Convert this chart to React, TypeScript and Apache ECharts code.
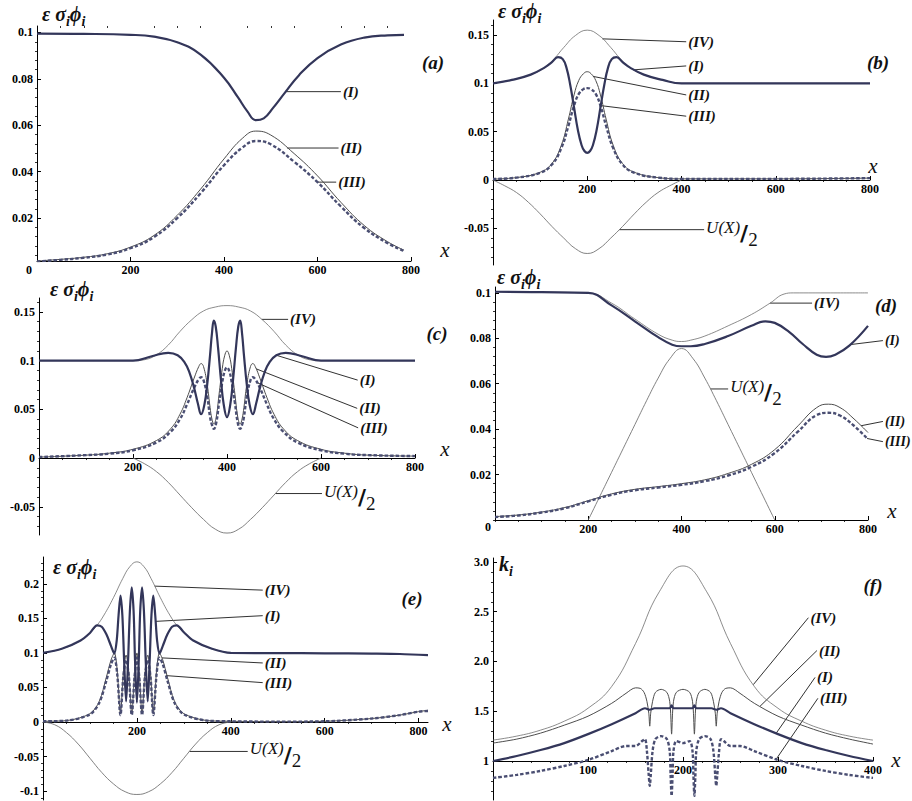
import React, { useEffect, useRef } from "react";
import * as echarts from "echarts";

// ---------------- Panel (a) ----------------
const A_I = [[0,0.0995],[100,0.0994],[200,0.099],[250,0.0982],[300,0.0958],[350,0.0905],[400,0.0805],[430,0.072],[450,0.066],[468,0.0622],[485,0.063],[505,0.0675],[530,0.074],[560,0.0815],[600,0.089],[650,0.0948],[700,0.0978],[750,0.0988],[785,0.099]];
const A_II = [[0,0.0015],[50,0.0022],[100,0.0031],[150,0.0046],[200,0.0075],[250,0.0125],[300,0.0212],[350,0.0325],[400,0.0455],[440,0.0545],[468,0.0575],[500,0.0558],[550,0.0478],[600,0.0382],[650,0.0268],[700,0.0168],[750,0.0098],[785,0.0062]];
const A_III = [[0,0.0013],[50,0.002],[100,0.0029],[150,0.0043],[200,0.007],[250,0.0118],[300,0.02],[350,0.0307],[400,0.0428],[440,0.0505],[468,0.0532],[500,0.0518],[550,0.0443],[600,0.0355],[650,0.025],[700,0.0157],[750,0.0092],[785,0.0058]];

// ---------------- Panel (b) ----------------
const B_I = [[0,0.1],[40,0.1035],[80,0.109],[110,0.1165],[125,0.122],[138,0.127],[148,0.125],[156,0.116],[164,0.098],[172,0.075],[180,0.052],[188,0.036],[194,0.03],[200,0.028],[206,0.03],[212,0.036],[220,0.052],[228,0.075],[236,0.098],[244,0.116],[252,0.125],[262,0.127],[275,0.122],[290,0.1165],[320,0.109],[360,0.1035],[400,0.1],[600,0.1],[800,0.1]];
const B_II = [[0,0.001],[50,0.0025],[100,0.008],[125,0.017],[145,0.036],[160,0.063],[172,0.088],[182,0.103],[192,0.11],[200,0.112],[208,0.11],[218,0.103],[228,0.088],[240,0.063],[255,0.036],[275,0.017],[300,0.008],[350,0.0025],[400,0.0012],[600,0.0012],[800,0.002]];
const B_III = [[0,0.001],[50,0.0025],[100,0.0075],[125,0.016],[145,0.033],[160,0.056],[172,0.077],[182,0.089],[192,0.094],[200,0.095],[208,0.094],[218,0.089],[228,0.077],[240,0.056],[255,0.033],[275,0.016],[300,0.0075],[350,0.0025],[400,0.0012],[600,0.0012],[800,0.002]];
const B_IV = [[0,0.1],[40,0.1035],[80,0.109],[110,0.1165],[130,0.1255],[150,0.137],[175,0.1495],[200,0.155],[225,0.1495],[250,0.137],[270,0.1255],[290,0.1165],[320,0.109],[360,0.1035],[400,0.1],[600,0.1],[800,0.1]];
const B_U = [[0,0],[25,-0.006],[50,-0.013],[75,-0.023],[100,-0.035],[125,-0.048],[150,-0.06],[175,-0.071],[200,-0.076],[225,-0.071],[250,-0.06],[275,-0.048],[300,-0.035],[325,-0.023],[350,-0.013],[375,-0.006],[400,0]];

// ---------------- Panel (c) ----------------
const C_I = [[0,0.1],[100,0.1],[200,0.1],[240,0.1045],[275,0.108],[295,0.1055],[310,0.098],[320,0.088],[330,0.072],[338,0.056],[345,0.045],[352,0.055],[358,0.076],[364,0.106],[368,0.128],[372,0.141],[376,0.135],[381,0.113],[387,0.081],[393,0.055],[400,0.042],[407,0.055],[413,0.081],[419,0.113],[424,0.135],[428,0.141],[432,0.128],[436,0.106],[442,0.076],[448,0.055],[455,0.045],[462,0.056],[470,0.072],[480,0.088],[490,0.098],[505,0.1055],[525,0.108],[560,0.1045],[600,0.1],[700,0.1],[800,0.1]];
const C_II = [[0,0.001],[100,0.003],[150,0.005],[200,0.009],[250,0.018],[280,0.03],[300,0.045],[315,0.062],[330,0.082],[340,0.094],[345,0.097],[350,0.094],[358,0.075],[364,0.052],[368,0.04],[372,0.035],[377,0.042],[383,0.065],[390,0.092],[395,0.105],[400,0.11],[405,0.105],[410,0.092],[417,0.065],[423,0.042],[428,0.035],[432,0.04],[436,0.052],[442,0.075],[450,0.094],[455,0.097],[460,0.094],[470,0.082],[485,0.062],[500,0.045],[520,0.03],[550,0.018],[600,0.009],[650,0.005],[700,0.003],[800,0.002]];
const C_III = [[0,0.001],[100,0.003],[150,0.0045],[200,0.008],[250,0.016],[280,0.027],[300,0.04],[315,0.055],[330,0.072],[340,0.081],[345,0.083],[350,0.08],[358,0.063],[364,0.042],[368,0.034],[372,0.03],[377,0.036],[383,0.056],[390,0.078],[395,0.089],[400,0.093],[405,0.089],[410,0.078],[417,0.056],[423,0.036],[428,0.03],[432,0.034],[436,0.042],[442,0.063],[450,0.08],[455,0.083],[460,0.081],[470,0.072],[485,0.055],[500,0.04],[520,0.027],[550,0.016],[600,0.008],[650,0.0045],[700,0.003],[800,0.002]];
const C_IV = [[0,0.1],[100,0.1],[200,0.1],[225,0.101],[250,0.106],[275,0.116],[300,0.13],[325,0.142],[350,0.151],[375,0.155],[400,0.1565],[425,0.155],[450,0.151],[475,0.142],[500,0.13],[525,0.116],[550,0.106],[575,0.101],[600,0.1],[700,0.1],[800,0.1]];
const C_U = [[200,0],[225,-0.006],[250,-0.014],[275,-0.025],[300,-0.038],[325,-0.051],[350,-0.063],[375,-0.073],[400,-0.077],[425,-0.073],[450,-0.063],[475,-0.051],[500,-0.038],[525,-0.025],[550,-0.014],[575,-0.006],[600,0]];

// ---------------- Panel (d) ----------------
const D_I = [[0,0.1005],[100,0.1003],[200,0.1],[250,0.0945],[300,0.0875],[350,0.0805],[380,0.0772],[400,0.0765],[420,0.0765],[450,0.0775],[500,0.081],[550,0.0855],[580,0.0875],[600,0.0868],[630,0.083],[660,0.0775],[690,0.0728],[710,0.0718],[730,0.0728],[760,0.0768],[800,0.0855]];
const D_II = [[0,0.0015],[50,0.0022],[100,0.0035],[150,0.0055],[200,0.0085],[250,0.0115],[300,0.0135],[350,0.0147],[400,0.016],[450,0.0177],[500,0.0205],[550,0.0245],[600,0.031],[650,0.0415],[690,0.0495],[715,0.051],[740,0.0495],[770,0.0445],[800,0.0385]];
const D_III = [[0,0.0013],[50,0.002],[100,0.0033],[150,0.0052],[200,0.0082],[250,0.0111],[300,0.0131],[350,0.0143],[400,0.0155],[450,0.0171],[500,0.0196],[550,0.0234],[600,0.0295],[650,0.039],[690,0.0462],[715,0.0472],[740,0.046],[770,0.0415],[800,0.0355]];
const D_IV = [[0,0.1005],[100,0.1003],[200,0.1],[250,0.0955],[300,0.0885],[350,0.0818],[380,0.0792],[400,0.0786],[420,0.0792],[450,0.081],[500,0.0855],[550,0.0905],[590,0.0955],[620,0.0995],[640,0.1],[720,0.1],[800,0.1]];
const D_U = [[200,0],[225,0.0105],[250,0.021],[275,0.0315],[300,0.042],[325,0.0525],[350,0.0625],[375,0.071],[400,0.0755],[425,0.071],[450,0.0625],[475,0.0525],[500,0.042],[525,0.0315],[550,0.021],[575,0.0105],[600,0]];

// ---------------- Panel (e) ----------------
const E_I = [[0,0.1],[40,0.106],[80,0.118],[100,0.129],[115,0.14],[125,0.138],[135,0.127],[145,0.11],[152,0.099],[157,0.118],[161,0.155],[165,0.183],[169,0.155],[173,0.085],[177,0.03],[181,0.085],[185,0.16],[189,0.195],[193,0.16],[196,0.09],[200,0.028],[204,0.09],[207,0.16],[211,0.195],[215,0.16],[219,0.085],[223,0.03],[227,0.085],[231,0.155],[235,0.183],[239,0.155],[243,0.118],[248,0.099],[255,0.11],[265,0.127],[275,0.138],[285,0.14],[300,0.13],[320,0.118],[360,0.106],[400,0.1],[500,0.0998],[600,0.0995],[700,0.099],[760,0.0985],[820,0.097]];
const E_II = [[0,0.001],[50,0.002],[100,0.012],[120,0.03],[135,0.065],[145,0.09],[152,0.1],[158,0.075],[165,0.012],[171,0.07],[177,0.097],[183,0.07],[189,0.012],[195,0.07],[200,0.1],[205,0.07],[211,0.012],[217,0.07],[223,0.097],[229,0.07],[235,0.012],[242,0.075],[248,0.1],[255,0.09],[265,0.065],[280,0.03],[300,0.012],[350,0.002],[400,0.001],[500,0.0005],[600,0.001],[700,0.005],[760,0.01],[800,0.015],[820,0.017]];
const E_III = [[0,0.001],[50,0.002],[100,0.011],[120,0.028],[135,0.06],[145,0.084],[152,0.093],[158,0.07],[165,0.01],[171,0.065],[177,0.09],[183,0.065],[189,0.01],[195,0.065],[200,0.093],[205,0.065],[211,0.01],[217,0.065],[223,0.09],[229,0.065],[235,0.01],[242,0.07],[248,0.093],[255,0.084],[265,0.06],[280,0.028],[300,0.011],[350,0.002],[400,0.001],[500,0.0005],[600,0.001],[700,0.005],[760,0.01],[800,0.015],[820,0.016]];
const E_IV = [[0,0.1],[40,0.106],[80,0.118],[100,0.129],[115,0.14],[130,0.155],[150,0.18],[170,0.208],[185,0.225],[200,0.232],[215,0.225],[230,0.208],[250,0.18],[270,0.155],[285,0.14],[300,0.13],[320,0.118],[360,0.106],[400,0.1]];
const E_U = [[0,0],[25,-0.004],[50,-0.0154],[75,-0.032],[100,-0.0525],[125,-0.073],[150,-0.0896],[175,-0.101],[200,-0.105],[225,-0.101],[250,-0.0896],[275,-0.073],[300,-0.0525],[325,-0.032],[350,-0.0154],[375,-0.004],[400,0]];

// ---------------- Panel (f) : k_i ----------------
const F_I = [[0,1.0],[25,1.05],[50,1.11],[75,1.18],[100,1.27],[125,1.37],[150,1.48],[160,1.53],[165,1.515],[170,1.53],[180,1.53],[186,1.53],[188,1.56],[190,1.53],[200,1.53],[210,1.53],[212,1.56],[214,1.53],[220,1.53],[230,1.53],[235,1.515],[240,1.53],[250,1.48],[275,1.37],[300,1.27],[325,1.18],[350,1.11],[375,1.05],[400,1.0]];
const F_II = [[0,1.18],[25,1.22],[50,1.28],[75,1.36],[100,1.45],[125,1.58],[140,1.68],[150,1.735],[155,1.73],[159,1.69],[162,1.6],[164,1.48],[165,1.35],[166,1.48],[168,1.6],[171,1.69],[177,1.72],[183,1.69],[186,1.6],[187,1.48],[188,1.27],[189,1.48],[190,1.6],[193,1.69],[200,1.72],[207,1.69],[210,1.6],[211,1.48],[212,1.27],[213,1.48],[214,1.6],[217,1.69],[223,1.72],[229,1.69],[232,1.6],[234,1.48],[235,1.35],[236,1.48],[238,1.6],[241,1.69],[245,1.73],[250,1.735],[260,1.68],[275,1.58],[300,1.45],[325,1.36],[350,1.28],[375,1.22],[400,1.17]];
const F_III = [[0,0.83],[25,0.86],[50,0.9],[75,0.95],[100,1.01],[125,1.1],[140,1.15],[150,1.15],[157,1.2],[160,1.22],[162,1.1],[164,0.85],[165,0.75],[166,0.85],[168,1.1],[171,1.22],[177,1.25],[183,1.22],[186,1.1],[187,0.85],[188,0.65],[189,0.85],[190,1.1],[193,1.2],[200,1.18],[207,1.2],[210,1.1],[211,0.85],[212,0.65],[213,0.85],[214,1.1],[217,1.22],[223,1.25],[229,1.22],[232,1.1],[234,0.85],[235,0.75],[236,0.85],[238,1.1],[240,1.22],[243,1.2],[250,1.15],[260,1.15],[275,1.1],[300,1.01],[325,0.95],[350,0.9],[375,0.86],[400,0.83]];
const F_IV = [[0,1.21],[25,1.25],[50,1.31],[75,1.4],[100,1.53],[125,1.75],[150,2.18],[175,2.7],[200,2.96],[225,2.7],[250,2.18],[275,1.75],[300,1.53],[325,1.4],[350,1.31],[375,1.25],[400,1.21]];

// ---------------- tick labels ----------------
const X_TICKS_800 = [200, 400, 600, 800];
const X_TICKS_F = [100, 200, 300, 400];
const Y_TICKS_A = [0.02, 0.04, 0.06, 0.08, 0.1];
const Y_TICKS_B = [-0.05, 0, 0.05, 0.1, 0.15];
const Y_TICKS_C = [-0.05, 0, 0.05, 0.1, 0.15];
const Y_TICKS_D = [0.02, 0.04, 0.06, 0.08, 0.1];
const Y_TICKS_E = [-0.1, -0.05, 0, 0.05, 0.1, 0.15, 0.2];
const Y_TICKS_F = [1, 1.5, 2, 2.5, 3];

// ---------------- layout (pixels) ----------------
const FONT = '"Liberation Serif", "DejaVu Serif", serif';
const LAYOUT = [
  { left: 37, top: 26, width: 374, height: 235, x: [0, 800], y: [0.0015, 0.1028], cross: 0.0015, xt: X_TICKS_800, yt: Y_TICKS_A, xs: 50, ys: 0.004, off: 0 },
  { left: 493, top: 20, width: 377, height: 245, x: [0, 800], y: [-0.0879, 0.1655], cross: 0, xt: X_TICKS_800, yt: Y_TICKS_B, xs: 50, ys: 0.01, off: 0 },
  { left: 39, top: 298, width: 376, height: 237, x: [0, 800], y: [-0.079, 0.1643], cross: 0, xt: X_TICKS_800, yt: Y_TICKS_C, xs: 50, ys: 0.01, off: 0 },
  { left: 495, top: 287, width: 373, height: 233, x: [0, 800], y: [0, 0.1026], cross: 0, xt: X_TICKS_800, yt: Y_TICKS_D, xs: 50, ys: 0.004, off: 0 },
  { left: 43, top: 557, width: 385, height: 243, x: [0, 820], y: [-0.113, 0.239], cross: 0, xt: X_TICKS_800, yt: Y_TICKS_E, xs: 50, ys: 0.01, off: 0 },
  { left: 493, top: 558, width: 380, height: 242, x: [0, 400], y: [0.608, 3.04], cross: 1, xt: X_TICKS_F, yt: Y_TICKS_F, xs: 20, ys: 0.1, off: 1 },
];

const STYLE: Record<string, any> = {
  I: { color: "#33365a", width: 2.2, type: "solid" },
  II: { color: "#4d4d4d", width: 1, type: "solid" },
  III: { color: "#4a4e72", width: 2.4, type: [3.5, 2] },
  IV: { color: "#6e6e6e", width: 0.8, type: "solid" },
  U: { color: "#747474", width: 0.9, type: "solid" },
};

const PANEL_SERIES: [string, number[][]][][] = [
  [["II", A_II], ["III", A_III], ["I", A_I]],
  [["U", B_U], ["IV", B_IV], ["II", B_II], ["III", B_III], ["I", B_I]],
  [["U", C_U], ["IV", C_IV], ["II", C_II], ["III", C_III], ["I", C_I]],
  [["U", D_U], ["IV", D_IV], ["II", D_II], ["III", D_III], ["I", D_I]],
  [["U", E_U], ["IV", E_IV], ["II", E_II], ["III", E_III], ["I", E_I]],
  [["IV", F_IV], ["II", F_II], ["III", F_III], ["I", F_I]],
];

// annotations: leader from curve point (x0) to end point (x1, v1), label after end
type Annot = { g: number; s: number[][]; x0: number; x1: number; v1?: number; text: string; u?: boolean; fs?: number };
const ANNOTS: Annot[] = [
  { g: 0, s: A_I, x0: 532, x1: 650, text: "(I)" },
  { g: 0, s: A_II, x0: 535, x1: 645, text: "(II)" },
  { g: 0, s: A_III, x0: 600, x1: 640, text: "(III)" },
  { g: 1, s: B_IV, x0: 232, x1: 410, v1: 0.143, text: "(IV)" },
  { g: 1, s: B_I, x0: 300, x1: 410, v1: 0.118, text: "(I)" },
  { g: 1, s: B_II, x0: 212, x1: 410, v1: 0.088, text: "(II)" },
  { g: 1, s: B_III, x0: 228, x1: 410, v1: 0.066, text: "(III)" },
  { g: 1, s: B_U, x0: 268, x1: 448, text: "U", u: true },
  { g: 2, s: C_IV, x0: 474, x1: 530, text: "(IV)" },
  { g: 2, s: C_I, x0: 505, x1: 678, v1: 0.08, text: "(I)" },
  { g: 2, s: C_II, x0: 462, x1: 677, v1: 0.051, text: "(II)" },
  { g: 2, s: C_III, x0: 464, x1: 679, v1: 0.031, text: "(III)" },
  { g: 2, s: C_U, x0: 503, x1: 602, text: "U", u: true },
  { g: 3, s: D_IV, x0: 590, x1: 680, text: "(IV)" },
  { g: 3, s: D_I, x0: 762, x1: 832, v1: 0.079, text: "(I)", fs: 14 },
  { g: 3, s: D_II, x0: 785, x1: 832, v1: 0.0434, text: "(II)", fs: 14 },
  { g: 3, s: D_III, x0: 798, x1: 832, v1: 0.0345, text: "(III)", fs: 14 },
  { g: 3, s: D_U, x0: 462, x1: 500, text: "U", u: true },
  { g: 4, s: E_IV, x0: 238, x1: 468, v1: 0.191, text: "(IV)" },
  { g: 4, s: E_I, x0: 240, x1: 468, v1: 0.154, text: "(I)" },
  { g: 4, s: E_II, x0: 253, x1: 468, v1: 0.0855, text: "(II)" },
  { g: 4, s: E_III, x0: 262, x1: 468, v1: 0.057, text: "(III)" },
  { g: 4, s: E_U, x0: 312, x1: 436, text: "U", u: true },
  { g: 5, s: F_IV, x0: 274, x1: 332, v1: 2.44, text: "(IV)" },
  { g: 5, s: F_II, x0: 281, x1: 341, v1: 2.11, text: "(II)" },
  { g: 5, s: F_I, x0: 298, x1: 339, v1: 1.84, text: "(I)" },
  { g: 5, s: F_III, x0: 298, x1: 342, v1: 1.63, text: "(III)" },
];

const PANEL_TAGS = [
  { t: "(a)", x: 433, y: 62 }, { t: "(b)", x: 878, y: 62 }, { t: "(c)", x: 437, y: 333 },
  { t: "(d)", x: 886, y: 305 }, { t: "(e)", x: 412, y: 598 }, { t: "(f)", x: 873, y: 585 },
];
const Y_TITLES = [
  { x: 42, y: 4, k: false }, { x: 498, y: 1, k: false }, { x: 50, y: 279, k: false },
  { x: 497, y: 267, k: false }, { x: 53, y: 557, k: false }, { x: 499, y: 554, k: true },
];
const X_NAMES = [
  { x: 445, y: 250 }, { x: 873, y: 166 }, { x: 445, y: 449 },
  { x: 892, y: 511 }, { x: 447, y: 724 }, { x: 896, y: 760 },
];

function interp(d: number[][], x: number): number {
  for (let i = 1; i < d.length; i++) {
    if (x <= d[i][0]) {
      const [x0, y0] = d[i - 1];
      const [x1, y1] = d[i];
      return y0 + ((y1 - y0) * (x - x0)) / (x1 - x0);
    }
  }
  return d[d.length - 1][1];
}

function minorTicks(lo: number, hi: number, step: number, majors: number[]): number[] {
  const out: number[] = [];
  const s = Math.ceil(lo / step - 1e-9);
  const e = Math.floor(hi / step + 1e-9);
  for (let i = s; i <= e; i++) {
    const v = +(i * step).toFixed(6);
    if (!majors.some((m) => Math.abs(m - v) < step / 10)) out.push(v);
  }
  return out;
}

const fmt = (v: number) => String(Math.round(v * 1000) / 1000);

function buildOption() {
  const grid: any[] = [];
  const xAxis: any[] = [];
  const yAxis: any[] = [];
  const series: any[] = [];
  LAYOUT.forEach((p, g) => {
    grid.push({ left: p.left, top: p.top, width: p.width, height: p.height, containLabel: false, outerBoundsMode: "none" });
    const lbl = { fontFamily: FONT, fontWeight: "bold", fontSize: 12, color: "#000" };
    xAxis.push({
      gridIndex: g, type: "value", min: p.x[0], max: p.x[1],
      axisLine: { show: true, onZero: true, lineStyle: { color: "#000", width: 1 } },
      axisTick: { show: true, inside: true, length: 4, customValues: p.xt, lineStyle: { color: "#000", width: 1 } },
      axisLabel: { show: false },
      splitLine: { show: false },
    });
    xAxis.push({
      gridIndex: g, type: "value", min: p.x[0], max: p.x[1],
      axisLine: { show: false, onZero: true },
      axisTick: { show: true, inside: true, length: 2, customValues: minorTicks(p.x[0], p.x[1], p.xs, p.xt), lineStyle: { color: "#000", width: 0.8 } },
      axisLabel: { show: false },
      splitLine: { show: false },
    });
    const yt = p.yt.map((v) => v - p.off);
    const ym = minorTicks(p.y[0], p.y[1], p.ys, p.yt).map((v) => v - p.off);
    yAxis.push({
      gridIndex: g, type: "value", min: p.y[0] - p.off, max: p.y[1] - p.off,
      axisLine: { show: true, onZero: true, lineStyle: { color: "#000", width: 1 } },
      axisTick: { show: true, inside: true, length: 4, customValues: yt, lineStyle: { color: "#000", width: 1 } },
      axisLabel: {
        show: true, customValues: yt, margin: 4, ...lbl,
        formatter: (v: number) => {
          const k = v + p.off;
          if (p.off) return Math.abs(k - 1) < 1e-6 ? "1" : k.toFixed(1);
          return fmt(k);
        },
      },
      splitLine: { show: false },
    });
    yAxis.push({
      gridIndex: g, type: "value", min: p.y[0] - p.off, max: p.y[1] - p.off,
      axisLine: { show: false, onZero: true },
      axisTick: { show: true, inside: true, length: 2, customValues: ym, lineStyle: { color: "#000", width: 0.8 } },
      axisLabel: { show: false },
      splitLine: { show: false },
    });
    PANEL_SERIES[g].forEach(([kind, data]) => {
      const sharp = g >= 4 && kind !== "U" && kind !== "IV";
      series.push({
        type: "line", xAxisIndex: 2 * g, yAxisIndex: 2 * g,
        data: data.map(([x, v]) => [x, v - p.off]),
        showSymbol: false, symbol: "none", smooth: sharp ? 0.3 : 0.45,
        lineStyle: { ...STYLE[kind] }, silent: true, animation: false,
      });
    });
  });
  return { animation: false, backgroundColor: "#ffffff", grid, xAxis, yAxis, series };
}

function buildGraphics(chart: any) {
  const els: any[] = [];
  const toPx = (g: number, x: number, v: number) =>
    chart.convertToPixel({ xAxisIndex: 2 * g, yAxisIndex: 2 * g }, [x, v - LAYOUT[g].off]);
  // x tick labels, set just under each panel's horizontal axis
  LAYOUT.forEach((p, g) => {
    p.xt.forEach((t) => {
      const q = toPx(g, t, p.cross);
      els.push({ type: "text", silent: true, x: q[0], y: q[1] + 3, style: { text: String(t), align: "center", verticalAlign: "top", fontFamily: FONT, fontSize: 12, fontWeight: "bold", fill: "#000" } });
    });
  });
  ANNOTS.forEach((a) => {
    const v0 = interp(a.s, a.x0);
    const p0 = toPx(a.g, a.x0, v0);
    const p1 = toPx(a.g, a.x1, a.v1 == null ? v0 : a.v1);
    els.push({ type: "line", silent: true, shape: { x1: p0[0], y1: p0[1], x2: p1[0], y2: p1[1] }, style: { stroke: "#1a1a1a", lineWidth: 0.9 } });
    if (a.u) {
      els.push({
        type: "text", silent: true, x: p1[0] + 2, y: p1[1] + 4,
        style: {
          text: "{u|U(X)}{s|/}{t|2}", align: "left", verticalAlign: "middle", fill: "#111",
          rich: {
            u: { fontFamily: FONT, fontSize: 17, fontStyle: "italic", lineHeight: 18, verticalAlign: "top", fill: "#111" },
            s: { fontFamily: '"DejaVu Sans", sans-serif', fontSize: 22, fontWeight: "bold", lineHeight: 30, verticalAlign: "middle", fill: "#111" },
            t: { fontFamily: FONT, fontSize: 19, lineHeight: 19, verticalAlign: "bottom", fill: "#111" },
          },
        },
      });
    } else {
      els.push({ type: "text", silent: true, x: p1[0] + 2, y: p1[1], style: { text: a.text, align: "left", verticalAlign: "middle", fontFamily: FONT, fontSize: a.fs || 15, fontWeight: "bold", fontStyle: "italic", fill: "#111" } });
    }
  });
  PANEL_TAGS.forEach((t) => {
    els.push({ type: "text", silent: true, x: t.x, y: t.y, style: { text: t.t, align: "center", verticalAlign: "middle", fontFamily: FONT, fontSize: 19, fontWeight: "bold", fontStyle: "italic", fill: "#111" } });
  });
  Y_TITLES.forEach((t) => {
    const m = { fontFamily: FONT, fontSize: 20, fontWeight: "bold", fontStyle: "italic", lineHeight: 24, verticalAlign: "top", fill: "#111" };
    const s = { fontFamily: FONT, fontSize: 14, fontWeight: "bold", fontStyle: "italic", lineHeight: 14, verticalAlign: "bottom", fill: "#111" };
    els.push({
      type: "text", silent: true, x: t.x, y: t.y,
      style: { text: t.k ? "{m|k}{s|i}" : "{m|\u03b5 \u03c3}{s|i}{m|\u03d5}{s|i}", align: "left", verticalAlign: "top", rich: { m, s } },
    });
  });
  X_NAMES.forEach((t) => {
    els.push({ type: "text", silent: true, x: t.x, y: t.y, style: { text: "x", align: "center", verticalAlign: "middle", fontFamily: FONT, fontSize: 21, fontStyle: "italic", fill: "#111" } });
  });
  // origin "0" labels of panels (a) and (d)
  [{ x: 29, y: 270 }, { x: 488, y: 527 }].forEach((o) => {
    els.push({ type: "text", silent: true, x: o.x, y: o.y, style: { text: "0", align: "center", verticalAlign: "middle", fontFamily: FONT, fontSize: 12, fontWeight: "bold", fill: "#000" } });
  });
  return els;
}

export default function App() {
  const ref = useRef<HTMLDivElement>(null);
  useEffect(() => {
    if (!ref.current) return;
    const chart = echarts.init(ref.current, null, { renderer: "svg" });
    chart.setOption(buildOption());
    chart.setOption({ graphic: buildGraphics(chart) });
    return () => chart.dispose();
  }, []);
  return <div ref={ref} style={{ position: "absolute", left: 0, top: 0, width: 912, height: 801, background: "#fff" }} />;
}
